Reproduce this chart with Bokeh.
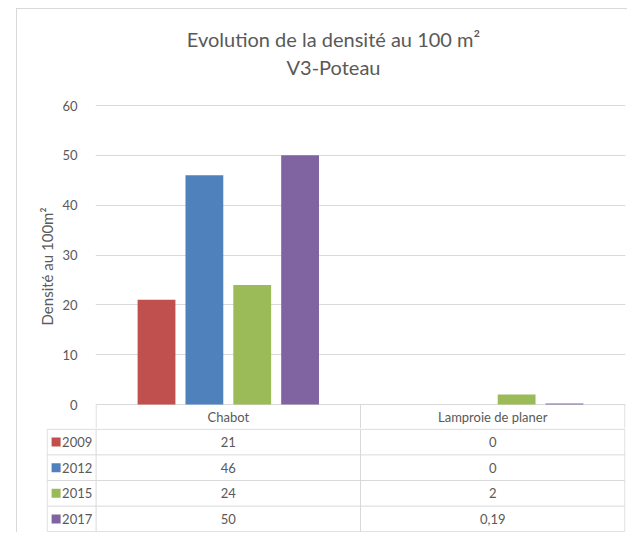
import numpy as np
from bokeh.plotting import figure
from bokeh.models import Range1d, FixedTicker
from bokeh.layouts import column
from bokeh.embed import file_html
from bokeh.resources import INLINE
from bokeh.core.properties import value

# ---------------- data ----------------
categories = ["Chabot", "Lamproie de planer"]
years = ["2009", "2012", "2015", "2017"]
colors = ["#C0504D", "#4F81BD", "#9BBB59", "#8064A2"]
chabot = [21, 46, 24, 50]
lamproie = [0, 0, 2, 0.19]
y_ticks = [0, 10, 20, 30, 40, 50, 60]
title_lines = ["Evolution de la densité au 100 m²", "V3-Poteau"]

series = {"Chabot": chabot, "Lamproie de planer": lamproie}

# ---------------- style / layout (pixels) ----------------
FONT = "Lato"
GRAY = "#595959"
LINE = "#d9d9d9"
W = 610
FRAME_L1 = 78          # plot area left border inside fig 1
FRAME_L2 = 29          # table left border inside fig 2
BORDER_R = 2
TITLE_H = 85           # title strip height
GAP_TOP = 10           # room above the plot area for the top tick label
PLOT_H = 299           # 0..60 in pixels
HEADER_H = 24          # header row of data table
ROWS_H = 104           # the 4 series rows
TITLE_CX = 316         # title centre inside the title strip (px)
TITLE_Y = [29, 57]     # title line centres inside the title strip (px)

ncat = len(categories)
nrow = len(years)
frame_w = W - FRAME_L1 - BORDER_R
e = 0.6 / (frame_w / ncat)
sx = frame_w / (ncat + 2 * e)          # px per category unit
ppu = PLOT_H / y_ticks[-1]             # px per value unit
y_top = y_ticks[-1] + 1 / ppu
y_bot = -HEADER_H / ppu

common = dict(output_backend="svg", toolbar_location=None,
              outline_line_color=None, background_fill_color="white",
              border_fill_color="white", frame_align=False)

# ---------------- title strip ----------------
h = figure(width=W, height=TITLE_H, x_range=Range1d(0, W),
           y_range=Range1d(TITLE_H, 0), min_border=0,
           x_axis_location=None, y_axis_location=None, **common)
h.xgrid.visible = False
h.ygrid.visible = False
h.text(x=[TITLE_CX] * len(title_lines), y=TITLE_Y, text=title_lines,
       text_font=value(FONT), text_font_size="20px", text_color=GRAY,
       text_align="center", text_baseline="middle")

# ---------------- column chart ----------------
p = figure(width=W, height=GAP_TOP + 1 + PLOT_H + HEADER_H,
           x_range=Range1d(-e, ncat + e), y_range=Range1d(y_bot, y_top),
           min_border_left=FRAME_L1, min_border_right=BORDER_R,
           min_border_top=GAP_TOP, min_border_bottom=0,
           x_axis_location=None, **common)

bar_w = 0.143
step = 0.181
centers = np.arange(ncat) + 0.5
for j, yr in enumerate(years):
    tops = [series[c][j] for c in categories]
    p.vbar(x=centers + (j - 1.5) * step, top=tops, bottom=0, width=bar_w,
           fill_color=colors[j], line_color=None)

p.yaxis.ticker = FixedTicker(ticks=y_ticks)
p.yaxis.axis_line_color = None
p.yaxis.major_tick_line_color = None
p.yaxis.minor_tick_line_color = None
p.yaxis.major_label_text_font = FONT
p.yaxis.major_label_text_font_size = "13px"
p.yaxis.major_label_text_color = GRAY
p.yaxis.major_label_standoff = 12
p.yaxis.axis_label = "Densité au 100m²"
p.yaxis.axis_label_text_font = FONT
p.yaxis.axis_label_text_font_size = "15px"
p.yaxis.axis_label_text_font_style = "normal"
p.yaxis.axis_label_text_color = GRAY
p.yaxis.axis_label_standoff = 3
p.xgrid.visible = False
p.ygrid.grid_line_color = LINE

# header row of the data table (inside fig 1, below 0)
hx = list(range(ncat + 1))
p.segment(x0=hx, y0=[0] * len(hx), x1=hx, y1=[y_bot] * len(hx),
          line_color=LINE, line_width=1)
p.text(x=list(centers), y=[y_bot / 2] * ncat, text=categories,
       text_font=value(FONT), text_font_size="13px", text_color=GRAY,
       text_align="center", text_baseline="middle")

# ---------------- data table rows ----------------
x0 = -(FRAME_L1 - FRAME_L2) / sx
t_w = W - FRAME_L2 - BORDER_R
t = figure(width=W, height=ROWS_H,
           x_range=Range1d(ncat + e - t_w / sx, ncat + e),
           y_range=Range1d(nrow + 0.03, -0.03),
           min_border_left=FRAME_L2, min_border_right=BORDER_R,
           min_border_top=0, min_border_bottom=0,
           x_axis_location=None, y_axis_location=None, **common)
t.xgrid.visible = False
t.ygrid.visible = False

sx0, sy0, sx1, sy1 = [], [], [], []
for k in range(0, nrow + 1):
    sx0.append(x0); sy0.append(k); sx1.append(ncat); sy1.append(k)
for c in [x0] + list(range(ncat + 1)):
    sx0.append(c); sy0.append(0); sx1.append(c); sy1.append(nrow)
t.segment(x0=sx0, y0=sy0, x1=sx1, y1=sy1, line_color=LINE, line_width=1)

def fmt(v):
    return f"{v:g}".replace(".", ",")

vx, vy, vt = [], [], []
for i, c in enumerate(categories):
    for j in range(nrow):
        vx.append(i + 0.5); vy.append(j + 0.5); vt.append(fmt(series[c][j]))
t.text(x=vx, y=vy, text=vt, text_font=value(FONT), text_font_size="13px",
       text_color=GRAY, text_align="center", text_baseline="middle")

rows_y = [j + 0.5 for j in range(nrow)]
t.scatter(x=[x0 + 9 / sx] * nrow, y=rows_y, marker="square", size=9,
          fill_color=colors, line_color=None)
t.text(x=[x0 + 15 / sx] * nrow, y=rows_y, text=years,
       text_font=value(FONT), text_font_size="13px", text_color=GRAY,
       text_align="left", text_baseline="middle")

layout = column(h, p, t, margin=(8, 0, 0, 16),
                styles={"border-left": "1px solid #d9d9d9",
                        "border-top": "1px solid #d9d9d9"})

open("out.html", "w").write(file_html(layout, INLINE))
